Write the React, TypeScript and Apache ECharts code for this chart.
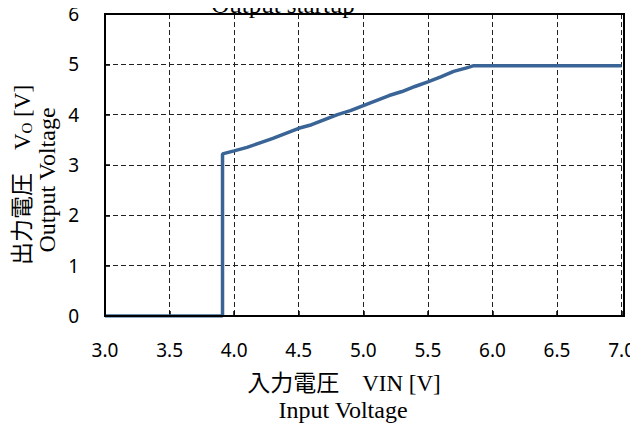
import React, { useEffect, useRef } from "react";
import * as echarts from "echarts";

const xValues = [3.0, 3.91, 3.91, 4.0, 4.1, 4.2, 4.3, 4.4, 4.5, 4.6, 4.7, 4.8, 4.9, 5.0, 5.1, 5.2, 5.3, 5.4, 5.5, 5.6, 5.7, 5.8, 5.85, 7.0];
const yValues = [0, 0, 3.22, 3.28, 3.35, 3.44, 3.53, 3.63, 3.73, 3.8, 3.9, 4.0, 4.08, 4.18, 4.28, 4.38, 4.46, 4.56, 4.65, 4.75, 4.86, 4.93, 4.97, 4.97];
const titleText = "Output startup";
const xTitle1 = "入力電圧　VIN [V]";
const xTitle2 = "Input Voltage";
const yTitle2 = "Output Voltage";

export default function App() {
  const ref = useRef<HTMLDivElement>(null);
  useEffect(() => {
    if (!ref.current) return;
    const chart = echarts.init(ref.current, null, { renderer: "svg" });
    const serif = "'Liberation Serif', 'Noto Sans CJK JP', serif";
    const sans = "'Noto Sans', 'Open Sans', sans-serif";
    chart.setOption({
      animation: false,
      backgroundColor: "#ffffff",
      grid: { left: 105, top: 14, width: 519, height: 302, containLabel: false },
      xAxis: {
        type: "value",
        min: 3,
        max: 7,
        interval: 0.5,
        axisLine: { show: true, lineStyle: { color: "#000", width: 2 } },
        axisTick: { show: true, inside: true, length: 5, lineStyle: { color: "#000", width: 1.5 } },
        axisLabel: {
          margin: 24,
          fontSize: 19,
          fontFamily: sans,
          color: "#000",
          formatter: (v: number) => v.toFixed(1),
        },
        splitLine: { show: true, lineStyle: { color: "#222", type: [5, 3], width: 1 } },
      },
      yAxis: {
        type: "value",
        min: 0,
        max: 6,
        interval: 1,
        axisLine: { show: true, lineStyle: { color: "#000", width: 2 } },
        axisTick: { show: true, inside: true, length: 5, lineStyle: { color: "#000", width: 1.5 } },
        axisLabel: { margin: 26, fontSize: 19, fontFamily: sans, color: "#000" },
        splitLine: { show: true, lineStyle: { color: "#222", type: [5, 3], width: 1 } },
      },
      series: [
        {
          type: "line",
          data: xValues.map((x, i) => [x, yValues[i]]),
          showSymbol: false,
          lineStyle: { color: "#3a6496", width: 3.5 },
          z: 5,
        },
      ],
      graphic: [
        {
          type: "rect",
          shape: { x: 105, y: 14, width: 519, height: 302 },
          style: { fill: "none", stroke: "#000", lineWidth: 2 },
          z: 10,
        },
        {
          type: "text",
          x: 283,
          y: 17,
          style: {
            text: titleText,
            fontSize: 25,
            fontFamily: serif,
            fill: "#000",
            align: "center",
            verticalAlign: "bottom",
          },
        },
        {
          type: "text",
          x: 344,
          y: 383,
          style: {
            text: xTitle1,
            fontSize: 23,
            fontFamily: serif,
            fill: "#000",
            align: "center",
            verticalAlign: "middle",
          },
        },
        {
          type: "text",
          x: 343,
          y: 410,
          style: {
            text: xTitle2,
            fontSize: 24,
            fontFamily: serif,
            fill: "#000",
            align: "center",
            verticalAlign: "middle",
          },
        },
        {
          type: "text",
          x: 22,
          y: 175,
          rotation: Math.PI / 2,
          style: {
            rich: {
              a: { fontSize: 23, fontFamily: serif, fill: "#000" },
              s: { fontSize: 15, fontFamily: serif, fill: "#000", padding: [9, 0, 0, 0] },
            },
            text: "{a|出力電圧　V}{s|O}{a| [V]}",
            align: "center",
            verticalAlign: "middle",
          },
        },
        {
          type: "text",
          x: 47,
          y: 180,
          rotation: Math.PI / 2,
          style: {
            text: yTitle2,
            fontSize: 24,
            fontFamily: serif,
            fill: "#000",
            align: "center",
            verticalAlign: "middle",
          },
        },
      ],
    });
    return () => chart.dispose();
  }, []);
  return <div ref={ref} style={{ width: 638, height: 431, margin: -8 }} />;
}
